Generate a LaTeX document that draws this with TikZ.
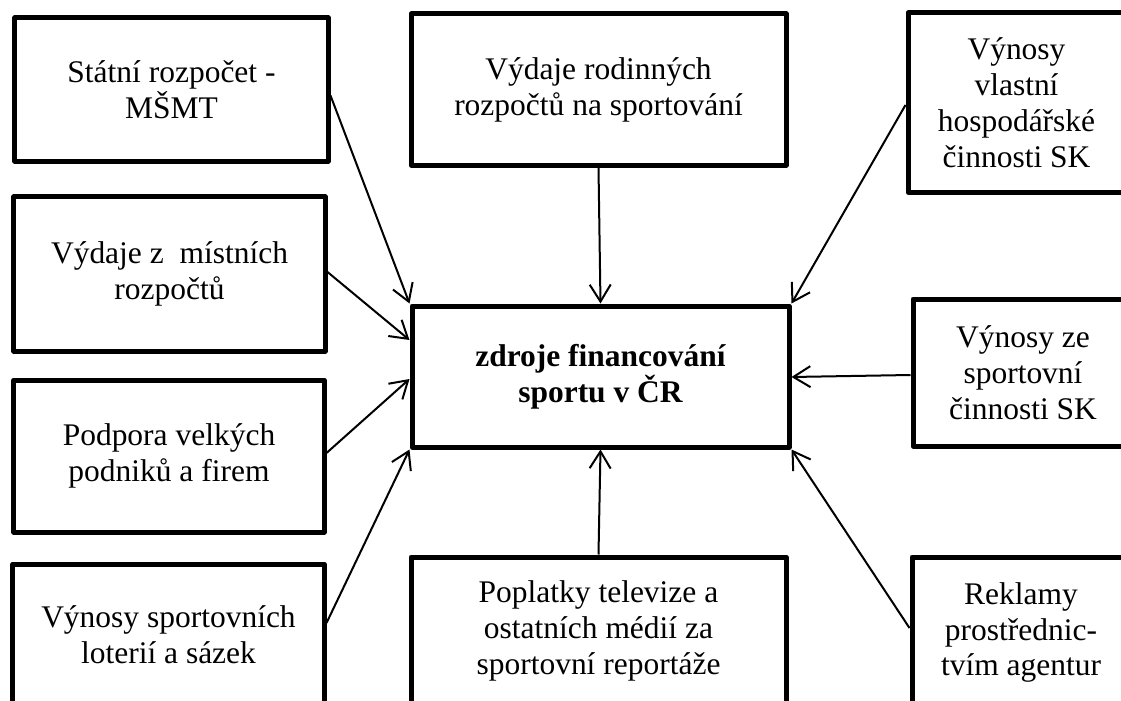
\documentclass[tikz,border=0pt]{standalone}
\usepackage{fontspec}
\setmainfont{Liberation Serif}
\usetikzlibrary{arrows.meta,calc}
\tikzset{
  box/.style={draw, line width=5bp, line join=round, align=center, inner sep=0pt,
    font=\fontsize{31.6pt}{36.1pt}\selectfont},
  conn/.style={line width=2bp, -{Straight Barb[length=17bp,width=21bp,line width=2bp]}},
}
\begin{document}
\begin{tikzpicture}[x=1bp,y=-1bp]
\clip (0,0) rectangle (1121,701);
\fill[white] (0,0) rectangle (1121,701);
\node[box, minimum width=313bp, minimum height=143bp] (B1) at (171.5,89.5) {Státní rozpočet -\\MŠMT};
\node[box, minimum width=311bp, minimum height=154bp] (B2) at (169.5,274) {Výdaje z\ \ místních\\rozpočtů};
\node[box, minimum width=310bp, minimum height=152bp] (B3) at (169,456) {Podpora velkých\\podniků a firem};
\node[box, minimum width=311bp, minimum height=142bp] (B4) at (168.5,635) {Výnosy sportovních\\loterií a sázek};
\node[box, minimum width=375bp, minimum height=151bp] (B5) at (598.5,89.5) {Výdaje rodinných\\rozpočtů na sportování};
\node[box, minimum width=377bp, minimum height=141bp, font=\fontsize{31.6pt}{36.1pt}\selectfont\bfseries] (C) at (600.5,376.5) {zdroje financování\\sportu v ČR};
\node[box, minimum width=375bp, minimum height=148bp] (B7) at (598.5,631) {Poplatky televize a\\ostatních médií za\\sportovní reportáže};
\node[box, minimum width=217bp, minimum height=179bp] (B8) at (1016.5,102.5) {Výnosy\\vlastní\\hospodářské\\činnosti SK};
\node[box, minimum width=220bp, minimum height=147bp] (B9) at (1023,372.5) {Výnosy ze\\sportovní\\činnosti SK};
\node[box, minimum width=218bp, minimum height=151bp] (B10) at (1021,632.5) {Reklamy\\prostřednic-\\tvím agentur};

\draw[conn] ($(B1.east)+(0,6)$) -- (C.north west);
\draw[conn] (B5.south) -- (C.north);
\draw[conn] ($(B8.west)+(0,2.5)$) -- (C.north east);
\draw[conn] ($(B2.east)+(0,-2)$) -- ($(C.west)+(0,-36.5)$);
\draw[conn] ($(B3.east)+(0,-3)$) -- ($(C.west)+(0,2.5)$);
\draw[conn] ($(B4.east)+(0,-12)$) -- (C.south west);
\draw[conn] (B7.north) -- (C.south);
\draw[conn] ($(B10.west)+(0,-4.5)$) -- (C.south east);
\draw[conn] ($(B9.west)+(0,2.5)$) -- ($(C.east)+(0,0.5)$);
\end{tikzpicture}
\end{document}
